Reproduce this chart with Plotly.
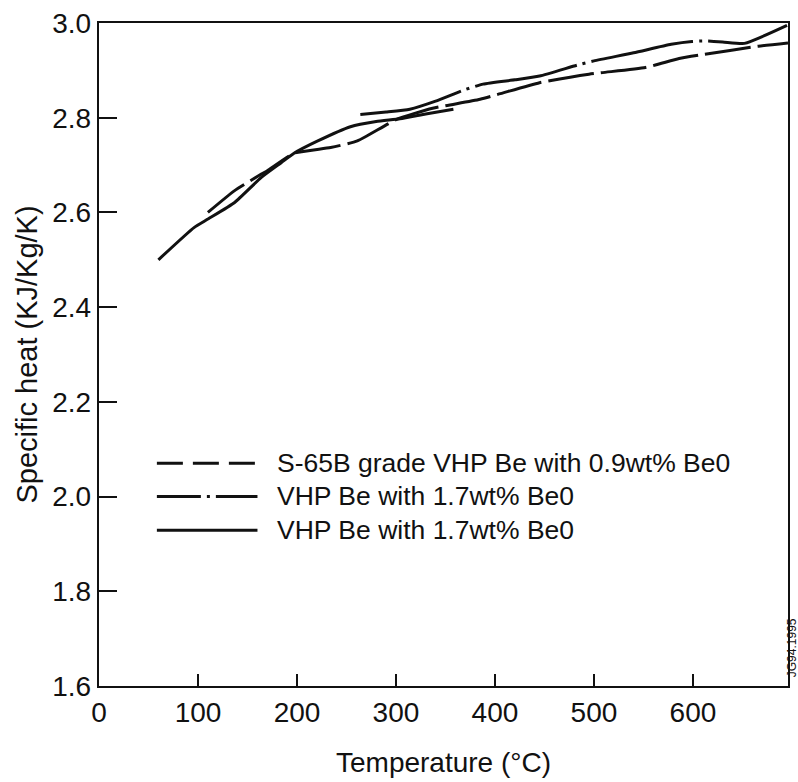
import plotly.graph_objects as go

# ---- data (temperature in °C, specific heat in KJ/Kg/K) ----
temp_s65b = [110, 137, 164, 170, 197, 234, 261, 301, 337, 385, 445, 495, 552, 586, 612, 666, 696]
cp_s65b = [2.600, 2.646, 2.681, 2.688, 2.725, 2.737, 2.751, 2.797, 2.820, 2.839, 2.874, 2.892,
           2.906, 2.925, 2.934, 2.951, 2.958]

temp_vhp_a = [264, 290, 314, 340, 368, 388, 420, 445, 483, 500, 540, 578, 599, 612, 630, 652, 695]
cp_vhp_a = [2.807, 2.812, 2.818, 2.835, 2.858, 2.871, 2.880, 2.888, 2.911, 2.920, 2.937, 2.955,
            2.961, 2.962, 2.960, 2.957, 2.995]

temp_vhp_b = [60, 96, 110, 137, 164, 184, 197, 221, 254, 280, 304, 330, 358]
cp_vhp_b = [2.500, 2.568, 2.586, 2.621, 2.674, 2.705, 2.725, 2.751, 2.781, 2.792, 2.798, 2.808, 2.818]

series_labels = ["S-65B grade VHP Be with 0.9wt% Be0",
                 "VHP Be with 1.7wt% Be0",
                 "VHP Be with 1.7wt% Be0"]

x_ticks = [0, 100, 200, 300, 400, 500, 600]
y_ticks = [1.6, 1.8, 2.0, 2.2, 2.4, 2.6, 2.8, 3.0]
y_tick_text = ["1.6", "1.8", "2.0", "2.2", "2.4", "2.6", "2.8", "3.0"]

FONT = "Liberation Sans, Arial, Helvetica, sans-serif"
INK = "#111111"

dash_styles = ["46px,7px", "104px,6px,3px,6px", "solid"]
legend_dash_styles = ["26px,10px", "44px,6px,3px,6px", "solid"]

series = [(temp_s65b, cp_s65b), (temp_vhp_a, cp_vhp_a), (temp_vhp_b, cp_vhp_b)]

fig = go.Figure()
for (xs, ys), lab, dsh in zip(series, series_labels, dash_styles):
    fig.add_trace(go.Scatter(
        x=xs, y=ys, mode="lines", name=lab, showlegend=False,
        line=dict(color=INK, width=3, dash=dsh, shape="spline", smoothing=0.5),
        hovertemplate="%{x} °C<br>%{y:.3f} KJ/Kg/K<extra>" + lab + "</extra>",
    ))

# hand-drawn legend (long key lines like the reference)
row_y = [0.336, 0.286, 0.235]
for lab, dsh, yy in zip(series_labels, legend_dash_styles, row_y):
    fig.add_shape(type="line", xref="paper", yref="paper",
                  x0=0.084, x1=0.230, y0=yy, y1=yy,
                  line=dict(color=INK, width=3, dash=dsh))
    fig.add_annotation(xref="paper", yref="paper", x=0.256, y=yy,
                       text=lab, showarrow=False, xanchor="left", yanchor="middle",
                       font=dict(family=FONT, size=26.5, color=INK))

# small rotated figure code at right edge
fig.add_annotation(xref="paper", yref="paper", x=1.0, y=0.057, xshift=4,
                   text="JG94.1995", showarrow=False, textangle=-90,
                   xanchor="center", yanchor="middle",
                   font=dict(family=FONT, size=12, color=INK))

fig.update_layout(
    width=798, height=782,
    margin=dict(l=99, r=8, t=21, b=96),
    paper_bgcolor="white", plot_bgcolor="white",
    font=dict(family=FONT, color=INK),
    showlegend=False,
    xaxis=dict(
        range=[0, 696], tickvals=x_ticks, ticktext=[str(v) for v in x_ticks],
        ticks="inside", ticklen=12, tickwidth=2, tickcolor=INK,
        showline=True, linewidth=2.4, linecolor=INK, mirror=True,
        showgrid=False, zeroline=False,
        tickfont=dict(family=FONT, size=28, color=INK),
        title=dict(text="Temperature (°C)", standoff=26,
                   font=dict(family=FONT, size=28, color=INK)),
    ),
    yaxis=dict(
        range=[1.6, 3.0], tickvals=y_ticks, ticktext=y_tick_text,
        ticks="inside", ticklen=18, tickwidth=2, tickcolor=INK,
        showline=True, linewidth=2.4, linecolor=INK, mirror=True,
        showgrid=False, zeroline=False,
        tickfont=dict(family=FONT, size=28, color=INK),
        title=dict(text="Specific heat (KJ/Kg/K)", standoff=6,
                   font=dict(family=FONT, size=29, color=INK)),
    ),
)

fig.write_html("out.html")
